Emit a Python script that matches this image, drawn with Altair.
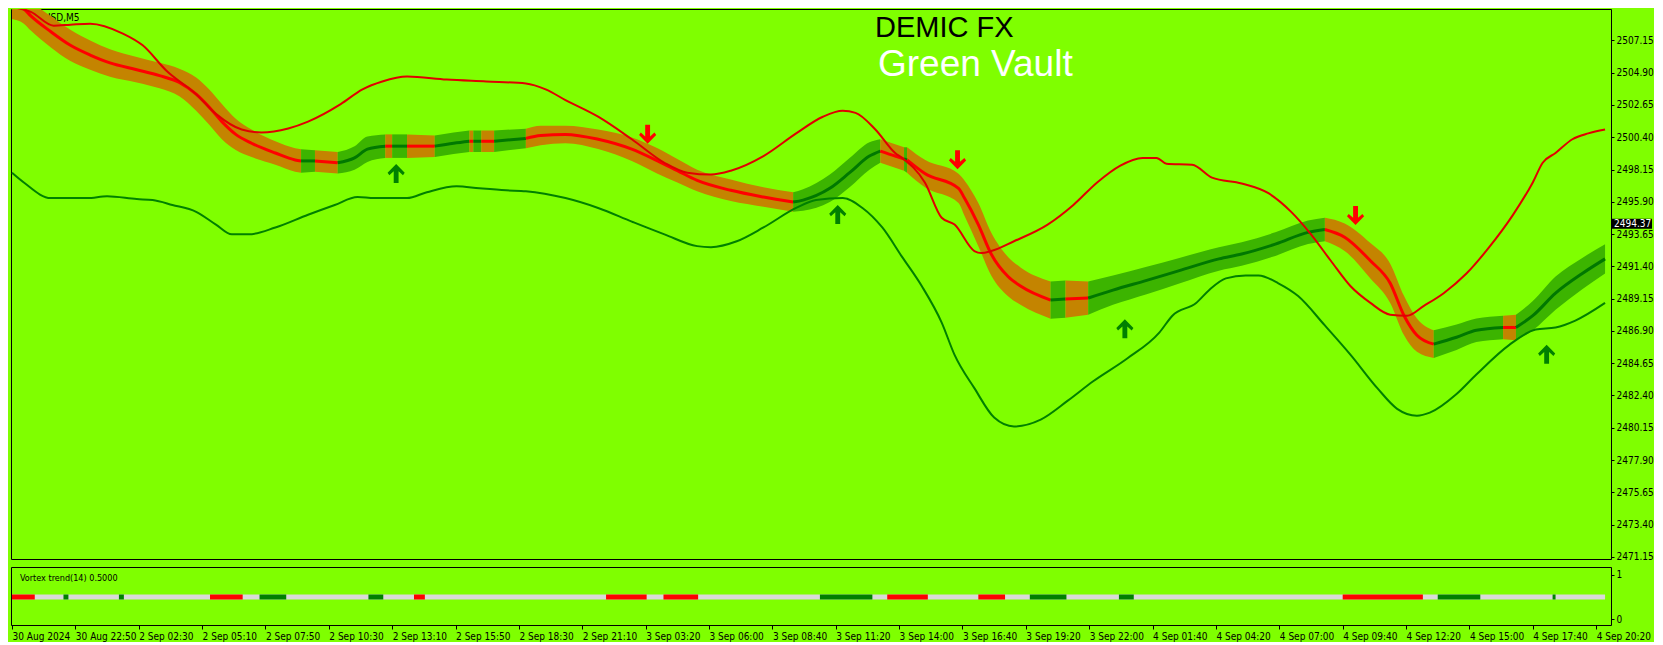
import altair as alt
import pandas as pd

# ---------------- colours / layout ----------------
BG = "#7fff00"
RED = "#ff0000"
THIN_RED = "#e00000"
DK_GREEN = "#007800"
HATCH_RED = "#c48400"
HATCH_GREEN = "#3cb400"
W = 1600
H_MAIN = 550
H_SUB = 58
X_DOMAIN = [-0.5, 807.5]
Y_DOMAIN = [2471.0, 2509.34]
SUB_DOMAIN = [-0.133, 1.178]
AXIS_FONT = "'DejaVu Sans Condensed', 'Liberation Sans', sans-serif"

# ---------------- axis ticks ----------------
TICK_BARS = [0, 32, 64, 96, 128, 160, 192, 224, 256, 288, 320, 352, 384, 416, 448,
             480, 512, 544, 576, 608, 640, 672, 704, 736, 768, 800]
TICK_LABELS = ["30 Aug 2024", "30 Aug 22:50", "2 Sep 02:30", "2 Sep 05:10", "2 Sep 07:50",
               "2 Sep 10:30", "2 Sep 13:10", "2 Sep 15:50", "2 Sep 18:30", "2 Sep 21:10",
               "3 Sep 03:20", "3 Sep 06:00", "3 Sep 08:40", "3 Sep 11:20", "3 Sep 14:00",
               "3 Sep 16:40", "3 Sep 19:20", "3 Sep 22:00", "4 Sep 01:40", "4 Sep 04:20",
               "4 Sep 07:00", "4 Sep 09:40", "4 Sep 12:20", "4 Sep 15:00", "4 Sep 17:40",
               "4 Sep 20:20"]
PRICE_TICKS = [2471.15, 2473.40, 2475.65, 2477.90, 2480.15, 2482.40, 2484.65, 2486.90,
               2489.15, 2491.40, 2493.65, 2495.90, 2498.15, 2500.40, 2502.65, 2504.90, 2507.15]
LAST_PRICE = 2494.37

# ---------------- trend band (centre line and half height) ----------------
BAND_BAR = [0, 6, 9.5, 19.5, 29.5, 39.5, 49.5, 63, 74.5, 84.5, 93, 99.5, 106, 113, 121, 133,
            143, 146, 153, 164.5, 173, 179.5, 188.5, 192, 199.5, 213.5, 223, 231, 233, 237,
            243.5, 259.5, 267, 279.5, 296, 313, 326, 336, 346, 363, 379.5, 394.5, 399.5, 413,
            423, 433, 438.5, 446, 450.5, 452, 461, 478, 481, 488, 494.5, 503, 509.5, 524.5,
            532, 543.5, 556, 573, 589.5, 609.5, 621, 638, 654.5, 663, 673, 686, 696, 703,
            709.5, 718, 729.5, 739.5, 753, 759.5, 768, 779.5, 793, 804.5]
BAND_MID = [2509.61, 2509.34, 2508.86, 2507.77, 2506.81, 2506.13, 2505.58, 2505.11, 2504.70,
            2504.22, 2503.40, 2502.51, 2501.49, 2500.60, 2499.98, 2499.30, 2498.82, 2498.75,
            2498.75, 2498.62, 2498.96, 2499.57, 2499.78, 2499.78, 2499.78, 2499.78, 2499.98,
            2500.12, 2500.12, 2500.12, 2500.12, 2500.32, 2500.53, 2500.60, 2500.26, 2499.57,
            2498.75, 2498.07, 2497.39, 2496.70, 2496.23, 2495.88, 2496.02, 2496.84, 2497.93,
            2499.09, 2499.44, 2499.09, 2498.89, 2498.82, 2497.87, 2496.84, 2496.16, 2494.31,
            2492.26, 2490.69, 2490.01, 2489.05, 2489.12, 2489.19, 2489.74, 2490.42, 2491.10,
            2491.92, 2492.26, 2492.95, 2493.77, 2493.97, 2493.43, 2491.79, 2490.22, 2487.96,
            2486.60, 2485.98, 2486.46, 2486.94, 2487.14, 2487.14, 2487.96, 2489.53, 2490.90,
            2491.92]
BAND_HALF = [0.96, 1.02, 1.02, 1.09, 1.09, 1.02, 0.96, 0.89, 0.89, 0.96, 1.16, 1.23, 1.23,
             1.09, 0.96, 0.82, 0.82, 0.82, 0.75, 0.75, 0.82, 0.89, 0.82, 0.82, 0.82, 0.75,
             0.75, 0.75, 0.75, 0.75, 0.75, 0.68, 0.68, 0.61, 0.68, 0.82, 0.89, 0.82, 0.75,
             0.75, 0.68, 0.68, 0.75, 0.96, 1.02, 0.96, 0.82, 0.82, 0.82, 0.89, 0.96, 1.02,
             1.23, 1.50, 1.50, 1.37, 1.30, 1.30, 1.30, 1.16, 1.02, 0.96, 0.89, 0.82, 0.82,
             0.82, 0.82, 0.82, 0.96, 1.23, 1.37, 1.37, 1.16, 0.96, 0.89, 0.82, 0.82, 0.89,
             1.02, 1.16, 1.09, 1.02]
BAND_SEG_START = [0, 146, 153, 164.5, 188.5, 192, 199.5, 213.5, 231, 233, 237, 243.5, 259.5,
                  394.5, 438.5, 450.5, 452, 524.5, 532, 543.5, 663, 718, 753, 759.5]
BAND_SEG_END = [146, 153, 164.5, 188.5, 192, 199.5, 213.5, 231, 233, 237, 243.5, 259.5, 394.5,
                438.5, 450.5, 452, 524.5, 532, 543.5, 663, 718, 753, 759.5, 804.5]
BAND_SEG_TREND = ["down", "up"] * 12

# ---------------- envelope lines ----------------
UP_BAR = [0, 9.5, 21, 29.5, 39.5, 56, 66, 78, 93, 103, 116, 126, 139.5, 149.5, 166, 177, 187,
          199.5, 219.5, 239.5, 259.5, 269.5, 279.5, 296, 313, 329.5, 341, 353, 363, 379.5, 396,
          409.5, 419.5, 426, 436, 446, 449.5, 461, 469.5, 476, 486, 489.5, 494.5, 506, 523,
          536, 548, 559.5, 571, 578, 583, 596, 606, 621, 634.5, 646, 656, 666, 676, 686, 696,
          704.5, 713, 723, 734.5, 746, 758, 768, 773, 779.5, 788, 796, 804.5]
UP_PRICE = [2509.48, 2509.14, 2508.18, 2508.25, 2508.32, 2507.63, 2506.81, 2505.04, 2503.40,
            2502.03, 2500.94, 2500.73, 2501.01, 2501.49, 2502.71, 2503.74, 2504.29, 2504.63,
            2504.42, 2504.29, 2504.15, 2503.74, 2502.99, 2501.83, 2500.26, 2498.62, 2497.93,
            2497.80, 2498.07, 2499.09, 2500.67, 2501.83, 2502.24, 2502.10, 2500.94, 2499.30,
            2498.96, 2497.25, 2494.79, 2494.31, 2492.47, 2492.33, 2492.47, 2493.15, 2494.31,
            2495.68, 2497.25, 2498.41, 2498.96, 2498.96, 2498.55, 2498.48, 2497.59, 2497.18,
            2496.50, 2495.20, 2493.63, 2491.79, 2490.01, 2488.85, 2488.03, 2487.96, 2488.65,
            2489.53, 2490.90, 2492.74, 2494.99, 2497.25, 2498.62, 2499.30, 2500.26, 2500.67,
            2500.94]
LO_BAR = [0, 6, 19.5, 38, 48, 63, 71, 81, 93, 103, 111, 119.5, 133, 149.5, 163, 174.5, 183,
          199.5, 209.5, 224.5, 236, 249.5, 259.5, 279.5, 296, 313, 329.5, 346, 353, 366, 379.5,
          396, 406, 419.5, 429.5, 439.5, 449.5, 459.5, 469.5, 476, 486, 496, 506, 519.5, 533,
          546, 563, 579.5, 586, 598, 604.5, 613, 623, 629.5, 639.5, 649.5, 663, 676, 689.5,
          699.5, 709.5, 716, 729.5, 739.5, 756, 769.5, 779.5, 789.5, 804.5]
LO_PRICE = [2497.93, 2497.25, 2496.16, 2496.16, 2496.29, 2496.09, 2496.02, 2495.68, 2495.20,
            2494.31, 2493.63, 2493.63, 2494.11, 2495.00, 2495.68, 2496.23, 2496.16, 2496.16,
            2496.57, 2496.98, 2496.84, 2496.70, 2496.64, 2496.16, 2495.47, 2494.52, 2493.63,
            2492.81, 2492.74, 2493.15, 2494.11, 2495.47, 2496.02, 2496.16, 2495.47, 2494.11,
            2492.06, 2490.01, 2487.48, 2485.23, 2482.91, 2480.86, 2480.24, 2480.72, 2482.02,
            2483.39, 2484.96, 2486.80, 2487.96, 2488.85, 2489.74, 2490.56, 2490.76, 2490.76,
            2490.22, 2489.33, 2487.28, 2485.23, 2482.91, 2481.47, 2480.99, 2481.20, 2482.50,
            2483.86, 2485.91, 2487.00, 2487.14, 2487.62, 2488.85]

# ---------------- signal arrows ----------------
ARROW_BAR = [321, 477.5, 678.5, 194, 417, 562, 775]
ARROW_PRICE = [2500.59, 2498.82, 2494.92, 2497.89, 2495.03, 2487.07, 2485.29]
ARROW_DIR = ["down", "down", "down", "up", "up", "up", "up"]

# ---------------- Vortex trend sub-window ----------------
VT_LEVEL = 0.5
VT_LAST_BAR = 804.5
VT_START = [0, 26, 54, 100, 125, 180, 203, 300, 329, 408, 442, 488, 514, 559, 672, 720, 778]
VT_END = [11.5, 28.5, 56.5, 116.5, 138.5, 187.5, 208.5, 320.5, 346.5, 434.5, 462.5, 501.5,
          532.5, 566.5, 712.5, 741.5, 779.5]
VT_TREND = ["down", "up", "up", "down", "up", "up", "down", "down", "down", "up", "down",
            "down", "up", "up", "down", "up", "up"]

assert len(BAND_BAR) == len(BAND_MID) == len(BAND_HALF)
assert len(UP_BAR) == len(UP_PRICE) and len(LO_BAR) == len(LO_PRICE)

# ---------------- tables ----------------
rows = []
for i, (s, e, t) in enumerate(zip(BAND_SEG_START, BAND_SEG_END, BAND_SEG_TREND)):
    for b, m, h in zip(BAND_BAR, BAND_MID, BAND_HALF):
        if s <= b <= e:
            rows.append({"seg": i, "bar": b, "mid": m, "lo": m - h, "hi": m + h,
                         "fill": HATCH_RED if t == "down" else HATCH_GREEN,
                         "stroke": RED if t == "down" else DK_GREEN})
band_df = pd.DataFrame(rows)
up_df = pd.DataFrame({"bar": UP_BAR, "price": UP_PRICE})
lo_df = pd.DataFrame({"bar": LO_BAR, "price": LO_PRICE})
arrow_df = pd.DataFrame({"bar": ARROW_BAR, "price": ARROW_PRICE, "dir": ARROW_DIR})
vt_df = pd.DataFrame({"s": VT_START, "e": VT_END, "lvl": VT_LEVEL,
                      "c": [RED if t == "down" else "#008000" for t in VT_TREND]})
vt_base = pd.DataFrame({"s": [0], "e": [VT_LAST_BAR], "lvl": [VT_LEVEL], "c": ["#dadada"]})

# ---------------- encodings ----------------
xs = alt.Scale(domain=X_DOMAIN, nice=False, zero=False)
ys = alt.Scale(domain=Y_DOMAIN, nice=False, zero=False)
y_axis = alt.Axis(orient="right", values=PRICE_TICKS, format=".2f", tickSize=3,
                  labelPadding=2, domain=False, grid=False, title=None,
                  labelFlush=False, labelOverlap=False)


def X(f):
    return alt.X(f, type="quantitative", scale=xs, axis=None)


def Y(f):
    return alt.Y(f, type="quantitative", scale=ys, axis=y_axis)


DOWN_PATH = "M-0.25,-1L0.25,-1L0.25,0.2L0.7,-0.2L0.88,0.05L0,0.95L-0.88,0.05L-0.7,-0.2L-0.25,0.2Z"
UP_PATH = "M-0.25,1L0.25,1L0.25,-0.2L0.7,0.2L0.88,-0.05L0,-0.95L-0.88,-0.05L-0.7,0.2L-0.25,-0.2Z"
BOX_PATH = "M-1,-0.25L1,-0.25L1,0.25L-1,0.25Z"

one = pd.DataFrame({"t": ["XAUUSD,M5"]})

symbol_txt = alt.Chart(one).mark_text(
    align="left", baseline="middle", font=AXIS_FONT, fontSize=10, color="black"
).encode(x=alt.value(14), y=alt.value(9), text="t:N")
symbol_tri = alt.Chart(one).mark_point(
    shape="triangle-down", filled=True, color="black", size=28, opacity=1
).encode(x=alt.value(7), y=alt.value(9))

band_area = alt.Chart(band_df).mark_area(clip=True, interpolate="monotone").encode(
    x=X("bar"), y=Y("lo"), y2=alt.Y2("hi"),
    color=alt.Color("fill:N", scale=None), detail="seg:N")
band_mid = alt.Chart(band_df).mark_line(clip=True, strokeWidth=3, interpolate="monotone").encode(
    x=X("bar"), y=Y("mid"), color=alt.Color("stroke:N", scale=None), detail="seg:N")
up_line = alt.Chart(up_df).mark_line(clip=True, strokeWidth=2, color=THIN_RED,
                                     interpolate="monotone").encode(x=X("bar"), y=Y("price"))
lo_line = alt.Chart(lo_df).mark_line(clip=True, strokeWidth=2, color="#008000",
                                     interpolate="monotone").encode(x=X("bar"), y=Y("price"))
down_arrows = alt.Chart(arrow_df).transform_filter(alt.datum.dir == "down").mark_point(
    shape=DOWN_PATH, filled=True, color=RED, size=380, opacity=1, strokeWidth=0
).encode(x=X("bar"), y=Y("price"))
up_arrows = alt.Chart(arrow_df).transform_filter(alt.datum.dir == "up").mark_point(
    shape=UP_PATH, filled=True, color="#008000", size=380, opacity=1, strokeWidth=0
).encode(x=X("bar"), y=Y("price"))

brand1 = alt.Chart(pd.DataFrame({"t": ["DEMIC FX"]})).mark_text(
    align="left", baseline="alphabetic", font="Liberation Sans", fontSize=29, color="black"
).encode(x=alt.value(864), y=alt.value(28), text="t:N")
brand2 = alt.Chart(pd.DataFrame({"t": ["Green Vault"]})).mark_text(
    align="left", baseline="alphabetic", font="Liberation Sans", fontSize=37, color="white"
).encode(x=alt.value(867), y=alt.value(67), text="t:N")

price_df = pd.DataFrame({"price": [LAST_PRICE], "t": [f"{LAST_PRICE:.2f}"]})
price_box = alt.Chart(price_df).mark_point(
    shape=BOX_PATH, filled=True, color="black", size=1600, opacity=1, strokeWidth=0
).encode(x=alt.value(W + 21), y=Y("price"))
price_txt = alt.Chart(price_df).mark_text(
    align="left", baseline="middle", font=AXIS_FONT, fontSize=10, color="white"
).encode(x=alt.value(W + 3), y=Y("price"), text="t:N")

main = alt.layer(symbol_txt, symbol_tri, band_area, band_mid, up_line, lo_line,
                 down_arrows, up_arrows, brand1, brand2, price_box, price_txt
                 ).properties(width=W, height=H_MAIN)

# ---------------- sub window ----------------
label_expr = ("[" + ",".join(f"'{s}'" for s in TICK_LABELS) + "][indexof(["
              + ",".join(str(b) for b in TICK_BARS) + "], datum.value)]")
sub_x_axis = alt.Axis(values=TICK_BARS, labelExpr=label_expr, tickSize=4, labelAlign="left",
                      labelPadding=2, domain=False, grid=False, title=None,
                      labelOverlap=False, labelFlush=False)
sub_y = alt.Scale(domain=SUB_DOMAIN, nice=False, zero=False)
sub_y_axis = alt.Axis(orient="right", values=[0, 1], format="d", tickSize=3, labelPadding=2,
                      domain=False, grid=False, title=None, labelFlush=False)


def vt_layer(df):
    return alt.Chart(df).mark_rule(strokeWidth=5, strokeCap="butt").encode(
        x=alt.X("s:Q", scale=xs, axis=sub_x_axis), x2="e:Q",
        y=alt.Y("lvl:Q", scale=sub_y, axis=sub_y_axis),
        color=alt.Color("c:N", scale=None))


vt_txt = alt.Chart(pd.DataFrame({"t": ["Vortex trend(14) 0.5000"]})).mark_text(
    align="left", baseline="middle", font=AXIS_FONT, fontSize=9, color="black"
).encode(x=alt.value(9), y=alt.value(11), text="t:N")

sub = alt.layer(vt_layer(vt_base), vt_layer(vt_df), vt_txt).properties(width=W, height=H_SUB)

chart = alt.vconcat(main, sub, spacing=3).properties(
    padding=0, background=BG
).configure_view(
    stroke="black", strokeWidth=1, fill=BG
).configure_axis(
    labelFont=AXIS_FONT, labelFontSize=10, labelColor="black", tickColor="black",
    tickWidth=1
)

chart.save("out.html", embed_options={"renderer": "svg", "actions": False})
